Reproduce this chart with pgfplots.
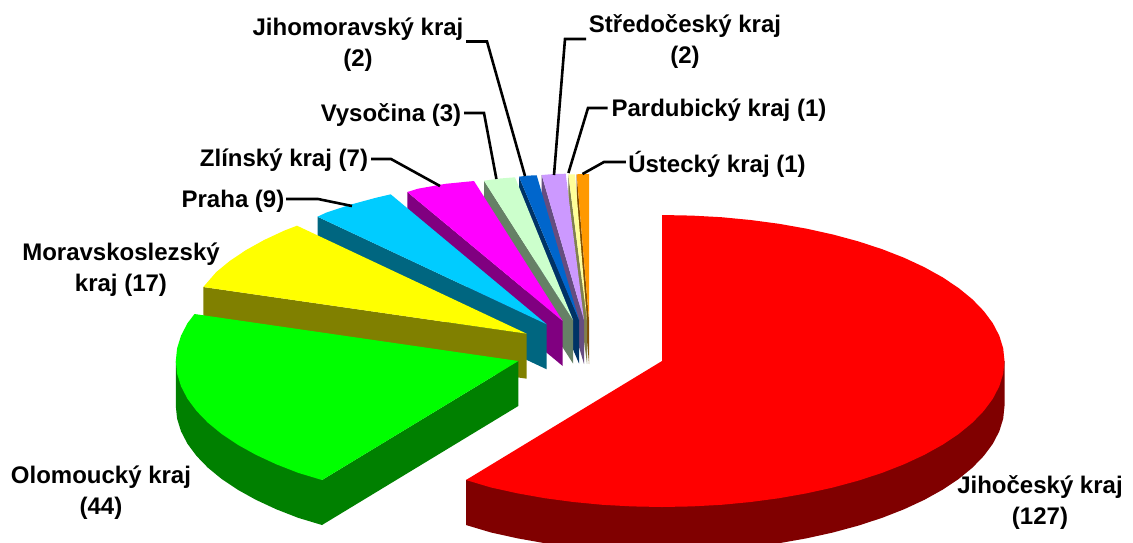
\documentclass[border=0pt]{standalone}
\usepackage{fontspec}
\setmainfont{Liberation Sans}
\usepackage{pgfplots}
\pgfplotsset{compat=1.18}
\definecolor{cRed}{HTML}{FF0000}\definecolor{wRed}{HTML}{800000}
\definecolor{cGreen}{HTML}{00FF00}\definecolor{wGreen}{HTML}{008000}
\definecolor{cYellow}{HTML}{FFFF00}\definecolor{wYellow}{HTML}{808000}
\definecolor{cCyan}{HTML}{00CCFF}\definecolor{wCyan}{HTML}{006680}
\definecolor{cMag}{HTML}{FF00FF}\definecolor{wMag}{HTML}{800080}
\definecolor{cMint}{HTML}{CCFFCC}\definecolor{wMint}{HTML}{668066}
\definecolor{cBlue}{HTML}{0066CC}\definecolor{wBlue}{HTML}{003366}
\definecolor{cLil}{HTML}{CC99FF}\definecolor{wLil}{HTML}{664D80}
\definecolor{cPale}{HTML}{FFFF99}\definecolor{wPale}{HTML}{80804D}
\definecolor{cOr}{HTML}{FF9900}\definecolor{wOr}{HTML}{804D00}
\tikzset{lab/.style={font=\fontsize{24}{31}\selectfont\bfseries,align=center,inner sep=0pt,text=black}}
\pgfplotsset{lead/.style={black,line width=2.6pt,line join=miter}}
\begin{document}
\begin{tikzpicture}
\begin{axis}[hide axis,scale only axis,width=1133pt,height=542pt,
  xmin=0,xmax=1133,ymin=0,ymax=542,y dir=reverse,enlargelimits=false]
\addplot[fill=white,draw=none] coordinates {(0,0)(1133,0)(1133,542)(0,542)} --cycle;
% orange
\addplot[fill=wOr,draw=none] coordinates {(576.7,174.3)(589,320)(589,364)(576.7,219)} --cycle;
\addplot[fill=cOr,draw=none] coordinates {(576.7,174.3)(583,174)(589,174)(589,320)} --cycle;
% pale yellow
\addplot[fill=wPale,draw=none] coordinates {(568.3,174.3)(587,320)(587,364)(568.3,219)} --cycle;
\addplot[fill=cPale,draw=none] coordinates {(568.3,174.3)(575,174.3)(587,320)} --cycle;
% lilac
\addplot[fill=wLil,draw=none] coordinates {(541.7,175)(584,320)(584,364)(541.7,220)} --cycle;
\addplot[fill=cLil,draw=none] coordinates {(541.7,175)(554,174)(565.7,173.7)(584,320)} --cycle;
% blue
\addplot[fill=wBlue,draw=none] coordinates {(519,176.7)(579,320)(579,363.5)(519,221.5)} --cycle;
\addplot[fill=cBlue,draw=none] coordinates {(519,176.7)(528,175.6)(536.7,175.3)(579,320)} --cycle;
% mint
\addplot[fill=wMint,draw=none] coordinates {(484,180.7)(573,320)(573,363.5)(484,225)} --cycle;
\addplot[fill=cMint,draw=none] coordinates {(484,180.7)(500,178.5)(515,177.3)(573,320)} --cycle;
% magenta
\addplot[fill=wMag,draw=none] coordinates {(407.3,192)(562.7,321)(562.7,366)(407.3,237)} --cycle;
\addplot[fill=cMag,draw=none] coordinates {(407.3,192)(418,188.7)(445.6,183.8)(474,181)(562.7,321)} --cycle;
% cyan
\addplot[fill=wCyan,draw=none] coordinates {(317.5,216.7)(546.7,324.3)(546.7,369.3)(317.5,261.7)} --cycle;
\addplot[fill=cCyan,draw=none] coordinates {(317.5,216.7)(326.5,212.5)(350.3,204.7)(375.4,197.9)(390.7,194.3)(546.7,324.3)} --cycle;
% yellow
\addplot[fill=wYellow,draw=none] coordinates {(203.3,287)(526.7,333.7)(526.7,378.7)(203.3,332)} --cycle;
\addplot[fill=cYellow,draw=none] coordinates {(203.3,287)(216.3,272)(230.1,260.7)(246.1,250)(264.3,239.9)(284.5,230.5)(297,225.7)(526.7,333.7)} --cycle;
% green
\addplot[fill=wGreen,draw=none] coordinates {(322,480)(518.3,361)(518.3,406)(322,525)} --cycle;
\addplot[fill=wGreen,draw=none] coordinates {(322,525)(298.1,517.8)(276.1,509.2)(255.9,499.8)(237.7,489.7)(221.7,479)(207.9,467.7)(196.5,455.9)(187.5,443.8)(181,431.3)(177.1,418.7)(175.8,406)(175.8,361)(322,480)} --cycle;
\addplot[fill=cGreen,draw=none] coordinates {(322,480)(298.1,472.8)(276.1,464.2)(255.9,454.8)(237.7,444.7)(221.7,434)(207.9,422.7)(196.5,410.9)(187.5,398.8)(181,386.3)(177.1,373.7)(175.8,361)(177.1,348.3)(181,335.7)(187.5,323.2)(194.5,314)(518.3,361)} --cycle;
% red
\addplot[fill=wRed,draw=none] coordinates {(1004.5,361)(1004.5,406)(1003.2,418.7)(999.3,431.3)(992.8,443.8)(983.8,455.9)(972.4,467.7)(958.6,479)(942.6,489.7)(924.4,499.8)(904.2,509.2)(882.2,517.8)(858.4,525.6)(833.3,532.4)(806.7,538.3)(779.1,543.2)(750.6,547)(721.5,549.8)(691.9,551.4)(662,552)(632.1,551.4)(602.5,549.8)(573.4,547)(544.9,543.2)(517.3,538.3)(490.7,532.4)(466,525)(466,480)} --cycle;
\addplot[fill=cRed,draw=none] coordinates {(662,215)(691.9,215.6)(721.5,217.2)(750.6,220)(779.1,223.8)(806.7,228.7)(833.3,234.6)(858.4,241.4)(882.2,249.2)(904.2,257.8)(924.4,267.2)(942.6,277.3)(958.6,288)(972.4,299.3)(983.8,311.1)(992.8,323.2)(999.3,335.7)(1003.2,348.3)(1004.5,361)(1003.2,373.7)(999.3,386.3)(992.8,398.8)(983.8,410.9)(972.4,422.7)(958.6,434)(942.6,444.7)(924.4,454.8)(904.2,464.2)(882.2,472.8)(858.4,480.6)(833.3,487.4)(806.7,493.3)(779.1,498.2)(750.6,502)(721.5,504.8)(691.9,506.4)(662,507)(632.1,506.4)(602.5,504.8)(573.4,502)(544.9,498.2)(517.3,493.3)(490.7,487.4)(466,480)(662,361)} --cycle;
% leader lines
\addplot[lead] coordinates {(466,41.5)(487,41.5)(525,176)};
\addplot[lead] coordinates {(586,39)(565,39)(554,175)};
\addplot[lead] coordinates {(607.5,108)(588,108)(568.4,173)};
\addplot[lead] coordinates {(625.8,162)(604,162)(582.5,174)};
\addplot[lead] coordinates {(464,113)(484,113)(496.4,179)};
\addplot[lead] coordinates {(371,159)(391,159)(440,186)};
\addplot[lead] coordinates {(286,199)(318,199)(352,206)};
% labels
\node[lab] at (axis cs:358,44.5) {Jihomoravský kraj\\(2)};
\node[lab] at (axis cs:685,42) {Středočeský kraj\\(2)};
\node[lab] at (axis cs:719,110) {Pardubický kraj (1)};
\node[lab] at (axis cs:717,164) {Ústecký kraj (1)};
\node[lab] at (axis cs:391,115) {Vysočina (3)};
\node[lab] at (axis cs:284,160) {Zlínský kraj (7)};
\node[lab] at (axis cs:233,201) {Praha (9)};
\node[lab] at (axis cs:121,270) {Moravskoslezský\\kraj (17)};
\node[lab] at (axis cs:101,493) {Olomoucký kraj\\(44)};
\node[lab] at (axis cs:1040,503) {Jihočeský kraj\\(127)};
\end{axis}
\end{tikzpicture}
\end{document}
